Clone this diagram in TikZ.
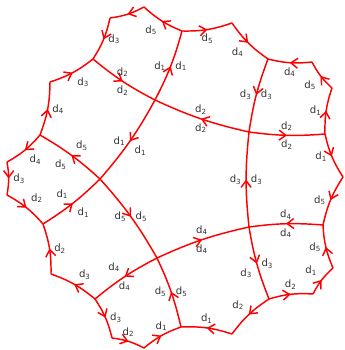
\documentclass[tikz,border=0pt]{standalone}
\usepackage{fontspec}
\setmainfont{DejaVu Sans}
\usetikzlibrary{arrows.meta, decorations.markings}
\definecolor{edgered}{RGB}{255,0,0}
\definecolor{labelgrey}{RGB}{51,51,51}
\newcommand{\dlab}[1]{d\textsubscript{#1}}

\begin{document}
\begin{tikzpicture}[
  x=0.75pt, y=-0.75pt,
  dtip/.tip={Straight Barb[length=5pt,width=7.5pt]},
  edge/.style={draw=edgered, line width=1.1pt},
  fwd/.style={postaction={decorate, decoration={markings,
              mark=at position .5 with {\arrow{dtip}}}}},
  bwd/.style={postaction={decorate, decoration={markings,
              mark=at position .5 with {\arrowreversed{dtip}}}}},
  lbl/.style={font=\fontsize{7.6}{8}\selectfont, text=labelgrey, inner sep=3pt}
]
  \useasboundingbox (0,0) rectangle (345,350);

  % corners and junctions of the boundary, clockwise from the top
  \coordinate (c1) at (144,7);
  \coordinate (j1) at (182,31);
  \coordinate (c2) at (232,23);
  \coordinate (j2) at (268,59);
  \coordinate (c3) at (312,62);
  \coordinate (c4) at (332,88);
  \coordinate (j3) at (325,134);
  \coordinate (c5) at (343,177);
  \coordinate (j4) at (323,225);
  \coordinate (c6) at (333,268);
  \coordinate (c7) at (313,294);
  \coordinate (j5) at (269,299);
  \coordinate (c8) at (232,334);
  \coordinate (j6) at (181,327);
  \coordinate (c9) at (144,348);
  \coordinate (c10) at (112,338);
  \coordinate (j7) at (95,299);
  \coordinate (c11) at (51,274);
  \coordinate (j8) at (43,224);
  \coordinate (c12) at (7,195);
  \coordinate (c13) at (7,162);
  \coordinate (j9) at (40,135);
  \coordinate (c14) at (50,82);
  \coordinate (j10) at (93,59);
  \coordinate (c15) at (110,18);

  % crossings of the inner curves
  \coordinate (x12) at (155,100);
  \coordinate (x23) at (249,132);
  \coordinate (x34) at (249,227);
  \coordinate (x45) at (157,258);
  \coordinate (x51) at (100,179);

  % boundary
  \draw[edge,bwd] (c1) to[bend right=10] node[lbl,below left]{\dlab{5}} (j1);
  \draw[edge,fwd] (j1) to[bend right=10] node[lbl,below]{\dlab{5}} (c2);
  \draw[edge,fwd] (c2) to[bend right=10] node[lbl,below left]{\dlab{4}} (j2);
  \draw[edge,bwd] (j2) to[bend right=10] node[lbl,below]{\dlab{4}} (c3);
  \draw[edge,bwd] (c3) to[bend right=10] node[lbl,below left]{\dlab{5}} (c4);
  \draw[edge,bwd] (c4) to[bend right=10] node[lbl,left]{\dlab{1}} (j3);
  \draw[edge,fwd] (j3) to[bend right=10] node[lbl,left]{\dlab{1}} (c5);
  \draw[edge,fwd] (c5) to[bend right=10] node[lbl,left]{\dlab{5}} (j4);
  \draw[edge,bwd] (j4) to[bend right=10] node[lbl,left]{\dlab{5}} (c6);
  \draw[edge,bwd] (c6) to[bend right=10] node[lbl,above left]{\dlab{1}} (c7);
  \draw[edge,bwd] (c7) to[bend right=10] node[lbl,above]{\dlab{2}} (j5);
  \draw[edge,fwd] (j5) to[bend right=10] node[lbl,above left]{\dlab{2}} (c8);
  \draw[edge,fwd] (c8) to[bend right=10] node[lbl,above]{\dlab{1}} (j6);
  \draw[edge,bwd] (j6) to[bend right=10] node[lbl,above]{\dlab{1}} (c9);
  \draw[edge,bwd] (c9) to[bend right=10] node[lbl,above]{\dlab{2}} (c10);
  \draw[edge,bwd] (c10) to[bend right=10] node[lbl,right]{\dlab{3}} (j7);
  \draw[edge,fwd] (j7) to[bend right=10] node[lbl,above right]{\dlab{3}} (c11);
  \draw[edge,fwd] (c11) to[bend right=10] node[lbl,right]{\dlab{2}} (j8);
  \draw[edge,bwd] (j8) to[bend right=10] node[lbl,above right]{\dlab{2}} (c12);
  \draw[edge,bwd] (c12) to[bend right=10] node[lbl,right]{\dlab{3}} (c13);
  \draw[edge,bwd] (c13) to[bend right=10] node[lbl,below right]{\dlab{4}} (j9);
  \draw[edge,fwd] (j9) to[bend right=10] node[lbl,right]{\dlab{4}} (c14);
  \draw[edge,fwd] (c14) to[bend right=10] node[lbl,below right]{\dlab{3}} (j10);
  \draw[edge,bwd] (j10) to[bend right=10] node[lbl,right]{\dlab{3}} (c15);
  \draw[edge,bwd] (c15) to[bend right=10] (c1);

  % d1 curve
  \draw[edge,bwd] (j1) to[bend left=6] node[lbl,left]{\dlab{1}} node[lbl,right]{\dlab{1}} (x12);
  \draw[edge,fwd] (x12) to[bend left=6] node[lbl,left]{\dlab{1}} node[lbl,below right]{\dlab{1}} (x51);
  \draw[edge,bwd] (x51) to[bend left=6] node[lbl,above left]{\dlab{1}} node[lbl,below right]{\dlab{1}} (j8);
  % d2 curve
  \draw[edge,fwd] (j10) to[bend right=6] node[lbl,above]{\dlab{2}} node[lbl,below]{\dlab{2}} (x12);
  \draw[edge,bwd] (x12) to[bend right=6] node[lbl,above]{\dlab{2}} node[lbl,below]{\dlab{2}} (x23);
  \draw[edge,fwd] (x23) to[bend right=6] node[lbl,above]{\dlab{2}} node[lbl,below]{\dlab{2}} (j3);
  % d3 curve
  \draw[edge,fwd] (j2) to[bend right=6] node[lbl,left]{\dlab{3}} node[lbl,right]{\dlab{3}} (x23);
  \draw[edge,bwd] (x23) to[bend right=6] node[lbl,left]{\dlab{3}} node[lbl,right]{\dlab{3}} (x34);
  \draw[edge,fwd] (x34) to[bend right=6] node[lbl,below left]{\dlab{3}} node[lbl,right]{\dlab{3}} (j5);
  % d4 curve
  \draw[edge,fwd] (j4) to[bend right=6] node[lbl,above]{\dlab{4}} node[lbl,below]{\dlab{4}} (x34);
  \draw[edge,bwd] (x34) to[bend right=6] node[lbl,above]{\dlab{4}} node[lbl,below]{\dlab{4}} (x45);
  \draw[edge,fwd] (x45) to[bend right=6] node[lbl,above left]{\dlab{4}} node[lbl,below]{\dlab{4}} (j7);
  % d5 curve
  \draw[edge,bwd] (j9) to[bend left=6] node[lbl,above right]{\dlab{5}} node[lbl,below left]{\dlab{5}} (x51);
  \draw[edge,fwd] (x51) to[bend left=6] node[lbl,right]{\dlab{5}} node[lbl,left]{\dlab{5}} (x45);
  \draw[edge,bwd] (x45) to[bend left=6] node[lbl,right]{\dlab{5}} node[lbl,left]{\dlab{5}} (j6);
\end{tikzpicture}
\end{document}
